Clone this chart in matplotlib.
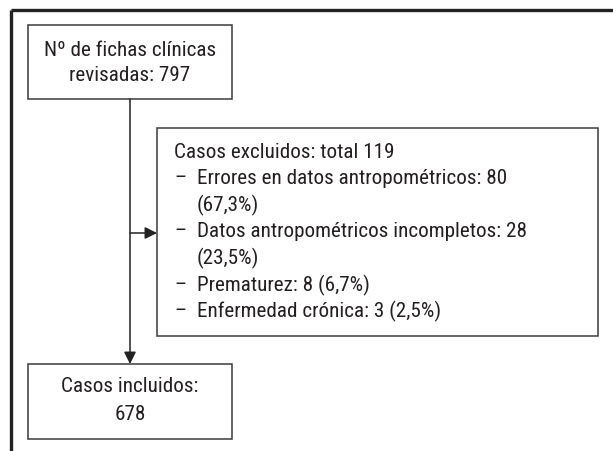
import matplotlib
matplotlib.use('Agg')
import matplotlib.pyplot as plt
from matplotlib.patches import Rectangle

plt.rcParams['font.family'] = ['Roboto Condensed', 'DejaVu Sans']

top_box = ["Nº de fichas clínicas", "revisadas: 797"]
excl_title = "Casos excluidos: total 119"
excl_items = [
    ["Errores en datos antropométricos: 80", "(67,3%)"],
    ["Datos antropométricos incompletos: 28", "(23,5%)"],
    ["Prematurez: 8 (6,7%)"],
    ["Enfermedad crónica: 3 (2,5%)"],
]
bottom_box = ["Casos incluidos:", "678"]

line_c = '#3a3a3a'
text_c = '#231f20'
fs = 15.2
lh = 26.6

fig = plt.figure(figsize=(6.13, 4.51), dpi=100)
ax = fig.add_axes([0, 0, 1, 1])
ax.set_xlim(0, 613)
ax.set_ylim(451, 0)
ax.axis('off')

# open frame: top and left only
ax.plot([11, 613], [10, 10], color='#222222', lw=2.4, solid_capstyle='butt')
ax.plot([11, 11], [10, 451], color='#222222', lw=2.4, solid_capstyle='butt')

def box(x0, y0, x1, y1):
    ax.add_patch(Rectangle((x0, y0), x1 - x0, y1 - y0, fill=False,
                           edgecolor=line_c, lw=1.1))

box(28, 25, 232, 99)
for i, t in enumerate(top_box):
    ax.text(130, 50 + i * 25.5, t, ha='center', va='center', fontsize=fs, color=text_c)

box(157, 128, 598, 336)
y = 152
ax.text(174, y, excl_title, ha='left', va='center', fontsize=fs, color=text_c)
for item in excl_items:
    y += lh
    ax.text(174, y, '–', ha='left', va='center', fontsize=fs, color=text_c)
    for j, t in enumerate(item):
        if j > 0:
            y += lh
        ax.text(197, y, t, ha='left', va='center', fontsize=fs, color=text_c)

box(28, 364, 232, 439)
for i, t in enumerate(bottom_box):
    ax.text(130, 387 + i * 27, t, ha='center', va='center', fontsize=fs, color=text_c)

# arrows
ax.annotate('', xy=(130, 364), xytext=(130, 99),
            arrowprops=dict(arrowstyle='-|>', color='#222222', lw=1.1,
                            mutation_scale=18, shrinkA=0, shrinkB=0))
ax.annotate('', xy=(157, 233), xytext=(130, 233),
            arrowprops=dict(arrowstyle='-|>', color='#222222', lw=1.1,
                            mutation_scale=18, shrinkA=0, shrinkB=0))

fig.savefig('out.png', dpi=100)
